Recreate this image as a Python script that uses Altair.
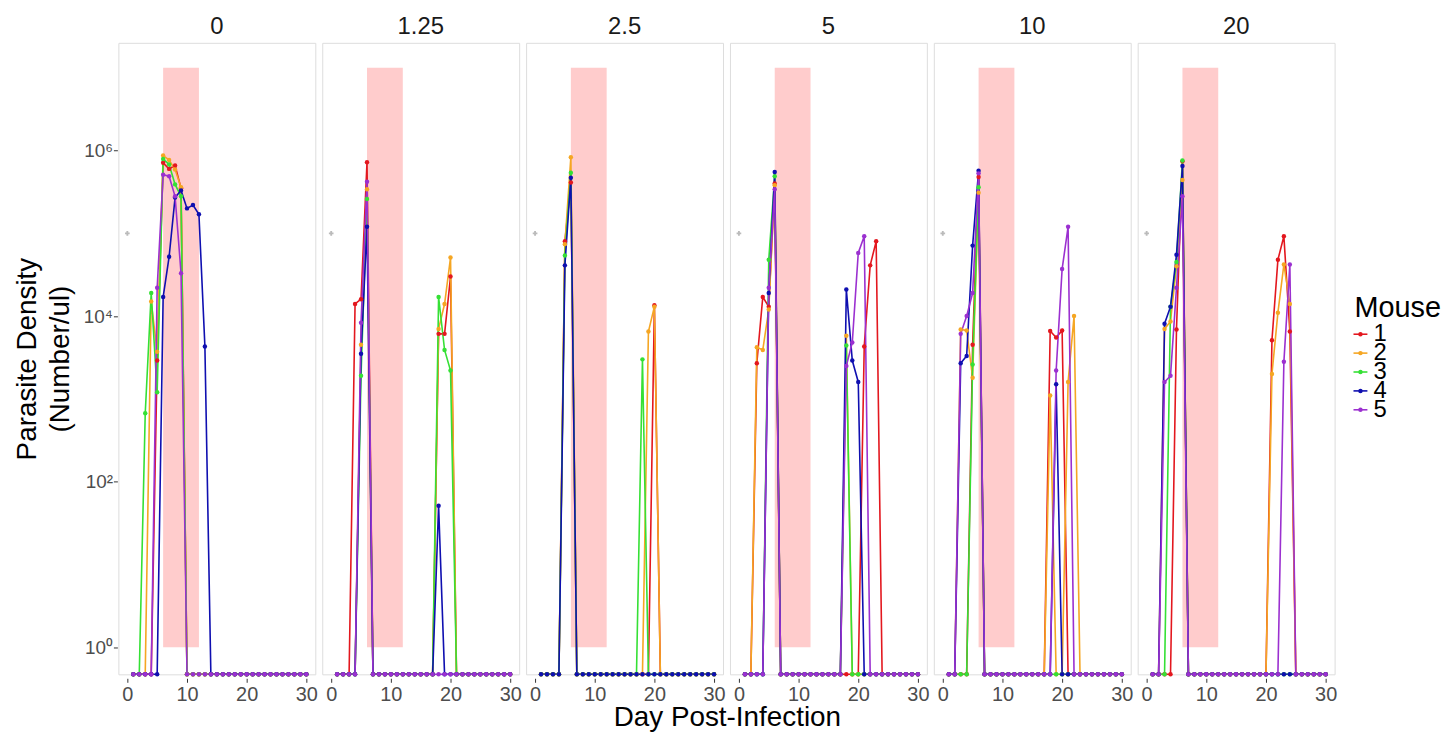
import altair as alt
import pandas as pd

DOSES = ["0", "1.25", "2.5", "5", "10", "20"]
MICE = ["1", "2", "3", "4", "5"]
COLORS = ["#E3171E", "#F5A623", "#35E035", "#0F0FB0", "#9B30D0"]
DAYS = list(range(1, 31))

# non-zero parasite densities per dose panel: {mouse: {day: density}}; all other days are 0
DOSE_0 = {
    "1": {5: 2.9e3, 6: 7.1e5, 7: 6.0e5, 8: 6.6e5, 9: 3.5e5},
    "2": {4: 1.5e4, 5: 3.7e3, 6: 8.7e5, 7: 7.7e5, 8: 5.9e5, 9: 3.6e5},
    "3": {3: 670, 4: 1.9e4, 5: 1.2e3, 6: 7.9e5, 7: 6.8e5, 8: 3.9e5, 9: 2.8e5},
    "4": {6: 1.7e4, 7: 5.2e4, 8: 2.7e5, 9: 3.3e5, 10: 2.0e5, 11: 2.2e5, 12: 1.7e5, 13: 4.3e3},
    "5": {5: 2.2e4, 6: 5.1e5, 7: 4.9e5, 8: 2.8e5, 9: 3.3e4},
}
DOSE_1_25 = {
    "1": {4: 1.4e4, 5: 1.6e4, 6: 7.2e5, 18: 6.1e3, 19: 6.1e3, 20: 3.0e4},
    "2": {5: 4.5e3, 6: 3.4e5, 18: 7.0e3, 19: 1.4e4, 20: 5.1e4},
    "3": {5: 1.9e3, 6: 2.6e5, 18: 1.7e4, 19: 3.9e3, 20: 2.2e3},
    "4": {5: 3.5e3, 6: 1.2e5, 18: 51},
    "5": {5: 8.3e3, 6: 4.2e5},
}
DOSE_2_5 = {
    "1": {5: 8.0e4, 6: 4.1e5, 20: 1.35e4},
    "2": {5: 7.4e4, 6: 8.3e5, 19: 6.5e3, 20: 1.3e4},
    "3": {5: 5.4e4, 6: 5.4e5, 18: 3.0e3},
    "4": {5: 4.1e4, 6: 4.7e5},
}
DOSE_5 = {
    "1": {3: 2.7e3, 4: 1.7e4, 5: 1.3e4, 6: 4.0e5, 21: 4.3e3, 22: 4.1e4, 23: 8.0e4},
    "2": {3: 4.2e3, 4: 3.9e3, 5: 1.2e4, 6: 3.8e5, 18: 5.8e3},
    "3": {5: 4.8e4, 6: 4.9e5, 18: 4.4e3},
    "4": {5: 1.9e4, 6: 5.5e5, 18: 2.1e4, 19: 2.9e3, 20: 1.6e3},
    "5": {5: 2.2e4, 6: 3.4e5, 18: 2.5e3, 19: 4.8e3, 20: 5.8e4, 21: 9.2e4},
}
DOSE_10 = {
    "1": {5: 4.5e3, 6: 4.8e5, 18: 6.6e3, 19: 5.5e3, 20: 6.7e3},
    "2": {3: 6.9e3, 4: 6.7e3, 5: 1.8e3, 6: 3.1e5, 18: 1.1e3, 21: 1.6e3, 22: 1.0e4},
    "3": {5: 2.6e3, 6: 3.6e5},
    "4": {3: 2.7e3, 4: 3.3e3, 5: 7.1e4, 6: 5.7e5, 19: 1.5e3},
    "5": {3: 6.1e3, 4: 1.0e4, 5: 1.9e4, 6: 5.3e5, 19: 2.2e3, 20: 3.7e4, 21: 1.2e5},
}
DOSE_20 = {
    "1": {5: 6.9e3, 6: 7.4e5, 21: 5.1e3, 22: 4.8e4, 23: 9.2e4, 24: 6.5e3},
    "2": {3: 7.0e3, 4: 8.6e3, 5: 4.0e4, 6: 4.4e5, 21: 2.0e3, 22: 1.1e4, 23: 4.2e4, 24: 1.4e4},
    "3": {4: 1.3e4, 5: 4.5e4, 6: 7.6e5},
    "4": {3: 8.1e3, 4: 1.3e4, 5: 5.5e4, 6: 6.5e5},
    "5": {3: 1.6e3, 4: 1.9e3, 5: 2.2e4, 6: 2.8e5, 23: 2.8e3, 24: 4.2e4},
}
PANELS = [DOSE_0, DOSE_1_25, DOSE_2_5, DOSE_5, DOSE_10, DOSE_20]

# treatment window (shaded) and stray NA point
WINDOW_DAYS = [6, 12]
WINDOW_DENSITY = [1, 1e7]
NA_POINT = (0, 1e5)

Y_MIN, Y_MAX = 0.47, 2.0e7  # zeros (log -Inf) sit on the panel floor
X_MIN, X_MAX = -1.5, 31.5

rows = []
for dose, panel in zip(DOSES, PANELS):
    rows.append(dict(dose=dose, kind="rect", x=WINDOW_DAYS[0], x2=WINDOW_DAYS[1],
                     y=WINDOW_DENSITY[0], y2=WINDOW_DENSITY[1]))
    rows.append(dict(dose=dose, kind="na", x=NA_POINT[0], y=NA_POINT[1]))
    for m, vals in panel.items():
        for d in DAYS:
            v = vals.get(d, 0)
            rows.append(dict(dose=dose, kind="obs", mouse=m, x=d,
                             y=v if v > 0 else Y_MIN))
df = pd.DataFrame(rows)
legend_df = pd.DataFrame({"mouse": MICE})
legend_title_df = pd.DataFrame({"title": ["Mouse"]})

FONT = "Liberation Sans"
xscale = alt.Scale(domain=[X_MIN, X_MAX], nice=False, zero=False)
yscale = alt.Scale(type="log", domain=[Y_MIN, Y_MAX], nice=False)
cscale = alt.Scale(domain=MICE, range=COLORS)
xaxis = alt.Axis(values=[0, 10, 20, 30], title=None, grid=False, domain=False,
                 tickColor="#333333", tickSize=4, labelFontSize=20, labelColor="#4D4D4D",
                 labelFont=FONT, labelPadding=2, labelFlush=False, labelOverlap=False)
yaxis = alt.Axis(values=[1, 100, 1e4, 1e6], title=["Parasite Density", "(Number/ul)"],
                 labelExpr="datum.value == 1 ? '10⁰' : datum.value == 100 ? '10²' : datum.value == 10000 ? '10⁴' : '10⁶'",
                 grid=False, domain=False, tickColor="#333333", tickSize=4,
                 labelFontSize=19, labelColor="#4D4D4D", labelFont=FONT, labelPadding=1,
                 titleFont=FONT, titleFontSize=28, titleFontWeight="normal", titleColor="#000000",
                 titleLineHeight=33, titlePadding=9)

color = alt.Color("mouse:N", scale=cscale, legend=None)

base = alt.Chart(df)
rect = base.transform_filter("datum.kind == 'rect'").mark_rect(color="#FFCCCC").encode(
    x=alt.X("x:Q", scale=xscale, axis=xaxis), x2="x2:Q",
    y=alt.Y("y:Q", scale=yscale, axis=yaxis), y2="y2:Q")
lines = base.transform_filter("datum.kind == 'obs'").mark_line(strokeWidth=1.6).encode(
    x=alt.X("x:Q", scale=xscale), y=alt.Y("y:Q", scale=yscale), color=color, order="x:Q")
points = base.transform_filter("datum.kind == 'obs'").mark_point(filled=True, size=20, opacity=1).encode(
    x=alt.X("x:Q", scale=xscale), y=alt.Y("y:Q", scale=yscale), color=color)
na = base.transform_filter("datum.kind == 'na'").mark_point(shape="cross", filled=True, size=22,
                                                           color="#BBBBBB", opacity=1).encode(
    x=alt.X("x:Q", scale=xscale), y=alt.Y("y:Q", scale=yscale))

panels = alt.layer(rect, lines, points, na).properties(width=198, height=635).facet(
    column=alt.Column("dose:N", sort=DOSES, title=None,
                      header=alt.Header(labelFontSize=24, labelFont=FONT, labelColor="#1A1A1A",
                                        labelPadding=3)),
    spacing=5,
)

# hand-built legend (line + dot key, tight rows as in the reference)
ly = alt.Y("mouse:N", scale=alt.Scale(type="point", domain=MICE, range=[293, 369], padding=0), axis=None)
lbase = alt.Chart(legend_df)
key_line = lbase.mark_rule(strokeWidth=1.6).encode(
    x=alt.value(16), x2=alt.value(30), y=ly, color=color)
key_dot = lbase.mark_point(filled=True, size=20, opacity=1).encode(
    x=alt.value(23), y=ly, color=color)
key_text = lbase.mark_text(align="left", baseline="middle", fontSize=24, font=FONT,
                           color="#000000").encode(x=alt.value(36), y=ly, text="mouse:N")
key_title = alt.Chart(legend_title_df).mark_text(align="left", baseline="middle", fontSize=29,
                                                  font=FONT, color="#000000").encode(
    x=alt.value(17), y=alt.value(267), text="title:N")
legend = alt.layer(key_line, key_dot, key_text, key_title).properties(
    width=104, height=635, view=alt.ViewBackground(stroke=None))

chart = alt.hconcat(panels, legend, spacing=0).properties(
    title=alt.TitleParams("Day Post-Infection", orient="bottom", anchor="middle", fontSize=28,
                          font=FONT, fontWeight="normal", color="#000000", offset=0),
    padding={"left": 5, "top": 5, "right": 0, "bottom": 5},
).configure_view(stroke="#8C8C8C", strokeWidth=1).configure(background="white")

chart.save("out.html", embed_options={"renderer": "svg", "actions": False})
